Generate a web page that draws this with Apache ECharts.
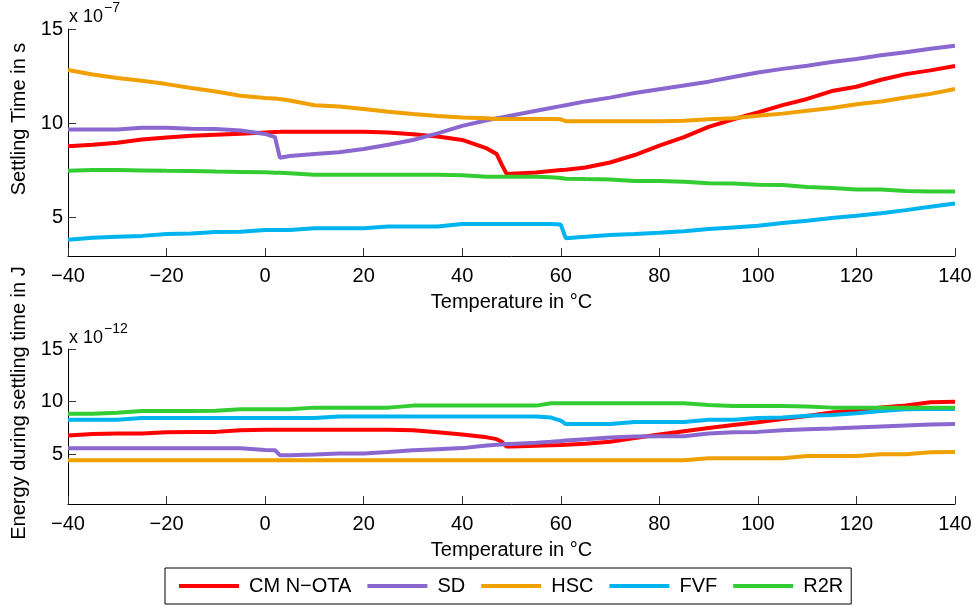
<!DOCTYPE html>
<html>
<head>
<meta charset="utf-8">
<script src="https://cdn.jsdelivr.net/npm/echarts@6/dist/echarts.min.js"></script>
<style>
  html, body { margin: 0; padding: 0; background: #fff; }
  #chart { width: 977px; height: 607px; }
</style>
</head>
<body>
<div id="chart"></div>
<script>
  // temperature grid in °C
  const temps = [-40, -35, -30, -25, -20, -15, -10, -5, 0, 2, 3, 5, 10, 15, 20, 25, 30, 35, 40, 45,
    47, 48, 49, 50, 55, 58, 60, 61, 65, 70, 75, 80, 85, 90, 95, 100, 105, 110, 115, 120, 125, 130, 135, 140]

  const names = ['CM N\u2212OTA', 'SD', 'HSC', 'FVF', 'R2R']
  const colors = ['#ff0000', '#8b68d0', '#f0a000', '#00b4f0', '#33cc33']
  const yTicks = [5, 10, 15]
  const xTicks = [-40, -20, 0, 20, 40, 60, 80, 100, 120, 140]

  // settling time, x 1e-7 s
  const settleCM = [8.76, 8.85, 8.95, 9.12, 9.23, 9.33, 9.38, 9.43, 9.5, 9.52, 9.53, 9.54, 9.54, 9.54, 9.54, 9.5, 9.4, 9.28, 9.1, 8.65,
    8.35, 7.8, 7.3, 7.3, 7.37, 7.45, 7.5, 7.52, 7.64, 7.9, 8.3, 8.8, 9.25, 9.8, 10.2, 10.56, 10.95, 11.28, 11.7, 11.93, 12.3, 12.6, 12.8, 13.03]
  const settleSD = [9.65, 9.65, 9.65, 9.75, 9.75, 9.7, 9.68, 9.6, 9.42, 9.25, 8.15, 8.25, 8.35, 8.45, 8.62, 8.85, 9.1, 9.45, 9.85, 10.15,
    10.25, 10.3, 10.35, 10.4, 10.65, 10.8, 10.9, 10.95, 11.15, 11.35, 11.6, 11.8, 12.0, 12.2, 12.45, 12.69, 12.88, 13.05, 13.25, 13.4, 13.6, 13.76, 13.95, 14.11]
  const settleHSC = [12.82, 12.58, 12.4, 12.25, 12.07, 11.86, 11.68, 11.45, 11.33, 11.3, 11.28, 11.2, 10.95, 10.88, 10.75, 10.6, 10.48, 10.38, 10.3, 10.25,
    10.22, 10.22, 10.22, 10.22, 10.22, 10.22, 10.2, 10.1, 10.1, 10.1, 10.1, 10.1, 10.12, 10.2, 10.25, 10.39, 10.5, 10.65, 10.8, 11.0, 11.15, 11.36, 11.55, 11.81]
  const settleFVF = [3.8, 3.9, 3.95, 4.0, 4.1, 4.12, 4.2, 4.22, 4.31, 4.31, 4.31, 4.31, 4.4, 4.4, 4.4, 4.5, 4.5, 4.5, 4.63, 4.63,
    4.63, 4.63, 4.63, 4.63, 4.63, 4.63, 4.6, 3.88, 3.95, 4.05, 4.1, 4.17, 4.25, 4.36, 4.45, 4.54, 4.68, 4.8, 4.95, 5.07, 5.2, 5.37, 5.55, 5.72]
  const settleR2R = [7.46, 7.5, 7.5, 7.48, 7.46, 7.45, 7.42, 7.4, 7.38, 7.36, 7.35, 7.33, 7.25, 7.25, 7.25, 7.25, 7.25, 7.25, 7.22, 7.14,
    7.14, 7.14, 7.14, 7.14, 7.14, 7.12, 7.08, 7.04, 7.02, 7.0, 6.92, 6.92, 6.88, 6.8, 6.78, 6.72, 6.7, 6.6, 6.55, 6.47, 6.47, 6.38, 6.36, 6.36]

  // energy during settling time, x 1e-12 J
  const energyCM = [6.79, 6.95, 6.98, 6.98, 7.1, 7.14, 7.14, 7.3, 7.35, 7.35, 7.35, 7.35, 7.35, 7.35, 7.35, 7.35, 7.3, 7.1, 6.89, 6.62,
    6.45, 6.2, 5.75, 5.75, 5.82, 5.88, 5.9, 5.93, 6.02, 6.2, 6.55, 6.9, 7.2, 7.5, 7.8, 8.05, 8.35, 8.65, 8.97, 9.2, 9.45, 9.65, 9.95, 10.0]
  const energySD = [5.58, 5.58, 5.58, 5.58, 5.58, 5.58, 5.58, 5.58, 5.42, 5.4, 4.93, 4.93, 5.0, 5.08, 5.08, 5.23, 5.39, 5.5, 5.6, 5.85,
    5.92, 5.95, 5.98, 6.0, 6.11, 6.2, 6.28, 6.33, 6.45, 6.6, 6.7, 6.73, 6.73, 6.98, 7.1, 7.14, 7.3, 7.38, 7.45, 7.55, 7.65, 7.75, 7.85, 7.89]
  const energyHSC = [4.46, 4.46, 4.46, 4.46, 4.46, 4.46, 4.46, 4.46, 4.46, 4.46, 4.46, 4.46, 4.46, 4.46, 4.46, 4.46, 4.46, 4.46, 4.46, 4.46,
    4.46, 4.46, 4.46, 4.46, 4.46, 4.46, 4.46, 4.46, 4.46, 4.46, 4.46, 4.46, 4.46, 4.64, 4.64, 4.64, 4.64, 4.86, 4.86, 4.86, 5.02, 5.02, 5.2, 5.23]
  const energyFVF = [8.29, 8.29, 8.29, 8.45, 8.45, 8.45, 8.45, 8.45, 8.45, 8.45, 8.45, 8.45, 8.45, 8.6, 8.6, 8.6, 8.6, 8.6, 8.6, 8.6,
    8.6, 8.6, 8.6, 8.6, 8.6, 8.5, 8.2, 7.89, 7.89, 7.89, 8.07, 8.07, 8.07, 8.29, 8.29, 8.45, 8.5, 8.66, 8.75, 8.9, 9.13, 9.29, 9.3, 9.3]
  const energyR2R = [8.85, 8.85, 8.95, 9.13, 9.13, 9.13, 9.15, 9.29, 9.29, 9.29, 9.29, 9.29, 9.44, 9.44, 9.44, 9.44, 9.63, 9.63, 9.63, 9.63,
    9.63, 9.63, 9.63, 9.63, 9.63, 9.85, 9.85, 9.85, 9.85, 9.85, 9.85, 9.85, 9.85, 9.7, 9.6, 9.6, 9.6, 9.55, 9.44, 9.44, 9.44, 9.44, 9.44, 9.44]

  const settleData = [settleCM, settleSD, settleHSC, settleFVF, settleR2R]
  const energyData = [energyCM, energySD, energyHSC, energyFVF, energyR2R]

  const font = '"Liberation Sans", Arial, Helvetica, sans-serif'
  const minus = v => String(v).replace('-', '\u2212')

  function xAxisOf (gridIndex) {
    return {
      type: 'value',
      gridIndex: gridIndex,
      min: -40,
      max: 140,
      interval: 20,
      name: 'Temperature in °C',
      nameLocation: 'middle',
      nameGap: 36,
      nameTextStyle: { fontFamily: font, fontSize: 20, color: '#000' },
      axisLine: { show: true, onZero: false, lineStyle: { color: '#000', width: 1 } },
      axisTick: { show: true, inside: true, length: 8, customValues: xTicks, lineStyle: { color: '#333' } },
      axisLabel: { fontFamily: font, fontSize: 20, color: '#000', margin: 10, customValues: xTicks, formatter: minus },
      splitLine: { show: false }
    }
  }

  function yAxisOf (gridIndex, min, name) {
    return {
      type: 'value',
      gridIndex: gridIndex,
      min: min,
      max: 15,
      name: name,
      nameLocation: 'middle',
      nameGap: 37,
      nameTextStyle: { fontFamily: font, fontSize: 20, color: '#000', padding: [0, 0, 0, 47] },
      axisLine: { show: true, onZero: false, lineStyle: { color: '#000', width: 1 } },
      axisTick: { show: true, inside: true, length: 8, customValues: yTicks, lineStyle: { color: '#333' } },
      axisLabel: { fontFamily: font, fontSize: 20, color: '#000', margin: 5, customValues: yTicks },
      splitLine: { show: false }
    }
  }

  function lineSeries (data, i, axisIndex) {
    return {
      name: names[i],
      type: 'line',
      xAxisIndex: axisIndex,
      yAxisIndex: axisIndex,
      showSymbol: false,
      symbol: 'none',
      animation: false,
      lineStyle: { width: 4, color: colors[i] },
      itemStyle: { color: colors[i] },
      data: temps.map((t, k) => [t, data[k]])
    }
  }

  const chart = echarts.init(document.getElementById('chart'))

  const options = {
    backgroundColor: '#fff',
    animation: false,
    grid: [
      { left: 68, right: 22, top: 29, height: 227 },
      { left: 68, right: 22, top: 349, height: 155 }
    ],
    xAxis: [xAxisOf(0), xAxisOf(1)],
    yAxis: [
      yAxisOf(0, 2.93, 'Settling Time in s'),
      yAxisOf(1, 0.3, 'Energy during settling time in J')
    ],
    legend: {
      data: names,
      left: 165,
      top: 568,
      orient: 'horizontal',
      icon: 'rect',
      itemWidth: 60,
      itemHeight: 4,
      itemGap: 16,
      padding: [8, 8, 8, 14],
      borderColor: '#000',
      borderWidth: 1,
      borderRadius: 0,
      textStyle: { fontFamily: font, fontSize: 20, color: '#000', padding: [0, 0, 0, 5] }
    },
    graphic: [
      { type: 'text', left: 69, top: 8, style: { text: 'x 10', font: '18px ' + font, fill: '#000' } },
      { type: 'text', left: 104, top: 1, style: { text: '\u22127', font: '14px ' + font, fill: '#000' } },
      { type: 'text', left: 69, top: 329, style: { text: 'x 10', font: '18px ' + font, fill: '#000' } },
      { type: 'text', left: 104, top: 322, style: { text: '\u221212', font: '14px ' + font, fill: '#000' } }
    ],
    series: settleData.map((d, i) => lineSeries(d, i, 0))
      .concat(energyData.map((d, i) => lineSeries(d, i, 1)))
  }

  chart.setOption(options)
</script>
</body>
</html>
